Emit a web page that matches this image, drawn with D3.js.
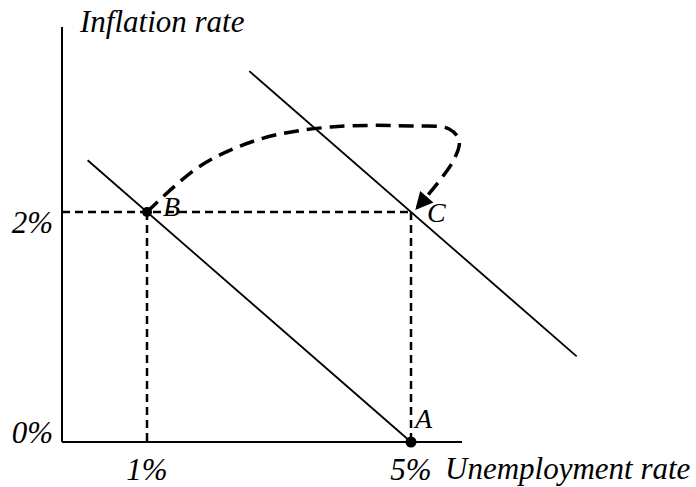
<!DOCTYPE html>
<html><head><meta charset="utf-8">
<script src="https://cdn.jsdelivr.net/npm/d3@7"></script>
<style>html,body{margin:0;padding:0;background:#fff}</style>
</head><body>
<svg id="c" width="696" height="487"></svg>
<script>
// ---- data ----
const xTickValues = [1, 5];
const xTickLabels = ["1%", "5%"];
const yTickValues = [0, 2];
const yTickLabels = ["0%", "2%"];
const pointNames = ["A", "B", "C"];
const pointX = [5, 1, 5];
const pointY = [0, 2, 2];
const pointDot = [true, true, false];
const curve1 = [[0.1, 2.45], [5, 0]];
const curve2 = [[2.55, 3.225], [7.51, 0.745]];
const shiftPath = [[1.0, 2.0], [1.806, 2.4], [2.719, 2.635], [3.783, 2.739], [5.0, 2.748], [5.578, 2.722], [5.73, 2.617], [5.639, 2.443], [5.1, 2.04]];
const xAxisLabel = "Unemployment rate";
const yAxisLabel = "Inflation rate";

// ---- scales ----
const x = d3.scaleLinear().domain([1, 5]).range([147, 411]);
const y = d3.scaleLinear().domain([0, 2]).range([442, 212]);
const xMin = x.invert(62), xMax = x.invert(462), yTop = y.invert(27);

const svg = d3.select("#c");
const font = "'Liberation Serif','Times New Roman',serif";

svg.append("defs").append("marker")
  .attr("id", "arr").attr("viewBox", "0 0 10 10").attr("refX", 8).attr("refY", 5)
  .attr("markerWidth", 5.5).attr("markerHeight", 5).attr("markerUnits", "strokeWidth")
  .attr("orient", "auto")
  .append("path").attr("d", "M0,0L10,5L0,10Z").attr("fill", "#000");

// axes
svg.append("line").attr("x1", x(xMin)).attr("x2", x(xMin)).attr("y1", y(yTop)).attr("y2", y(0))
  .attr("stroke", "#000").attr("stroke-width", 2);
svg.append("line").attr("x1", x(xMin)).attr("x2", x(xMax)).attr("y1", y(0)).attr("y2", y(0))
  .attr("stroke", "#000").attr("stroke-width", 2);

// dashed guides
const guides = [
  [[xMin, 2], [5, 2]],
  [[1, 2], [1, 0]],
  [[5, 2], [5, 0]]
];
guides.forEach(g => {
  svg.append("line").attr("x1", x(g[0][0])).attr("y1", y(g[0][1]))
    .attr("x2", x(g[1][0])).attr("y2", y(g[1][1]))
    .attr("stroke", "#000").attr("stroke-width", 2.5).attr("stroke-dasharray", "8,5");
});

// curves
const line = d3.line().x(d => x(d[0])).y(d => y(d[1]));
[curve1, curve2].forEach(c => {
  svg.append("path").attr("d", line(c)).attr("fill", "none").attr("stroke", "#000").attr("stroke-width", 1.8);
});

// shift path
svg.append("path").attr("d", line.curve(d3.curveCatmullRom)(shiftPath))
  .attr("fill", "none").attr("stroke", "#000").attr("stroke-width", 3.5)
  .attr("stroke-dasharray", "15,8").attr("marker-end", "url(#arr)");

// points
pointNames.forEach((n, i) => {
  if (!pointDot[i]) return;
  svg.append("circle").attr("cx", x(pointX[i])).attr("cy", y(pointY[i])).attr("r", n === "A" ? 5.5 : 5).attr("fill", "#000");
});

// point labels
const labelOff = {A: [4, -14], B: [16, 4], C: [16, 10]};
pointNames.forEach((n, i) => {
  svg.append("text").attr("x", x(pointX[i]) + labelOff[n][0]).attr("y", y(pointY[i]) + labelOff[n][1])
    .attr("font-family", font).attr("font-style", "italic").attr("font-size", 28).text(n);
});

// tick labels
xTickValues.forEach((v, i) => {
  svg.append("text").attr("x", x(v)).attr("y", 480).attr("text-anchor", "middle")
    .attr("font-family", font).attr("font-style", "italic").attr("font-size", 31).text(xTickLabels[i]);
});
const yLabOff = [1, 21];
yTickValues.forEach((v, i) => {
  svg.append("text").attr("x", 53).attr("y", y(v) + yLabOff[i]).attr("text-anchor", "end")
    .attr("font-family", font).attr("font-style", "italic").attr("font-size", 31).text(yTickLabels[i]);
});

// axis titles
svg.append("text").attr("x", 445).attr("y", 479)
  .attr("font-family", font).attr("font-style", "italic").attr("font-size", 31).text(xAxisLabel);
svg.append("text").attr("x", 80).attr("y", 32)
  .attr("font-family", font).attr("font-style", "italic").attr("font-size", 31).text(yAxisLabel);
</script>
</body></html>
